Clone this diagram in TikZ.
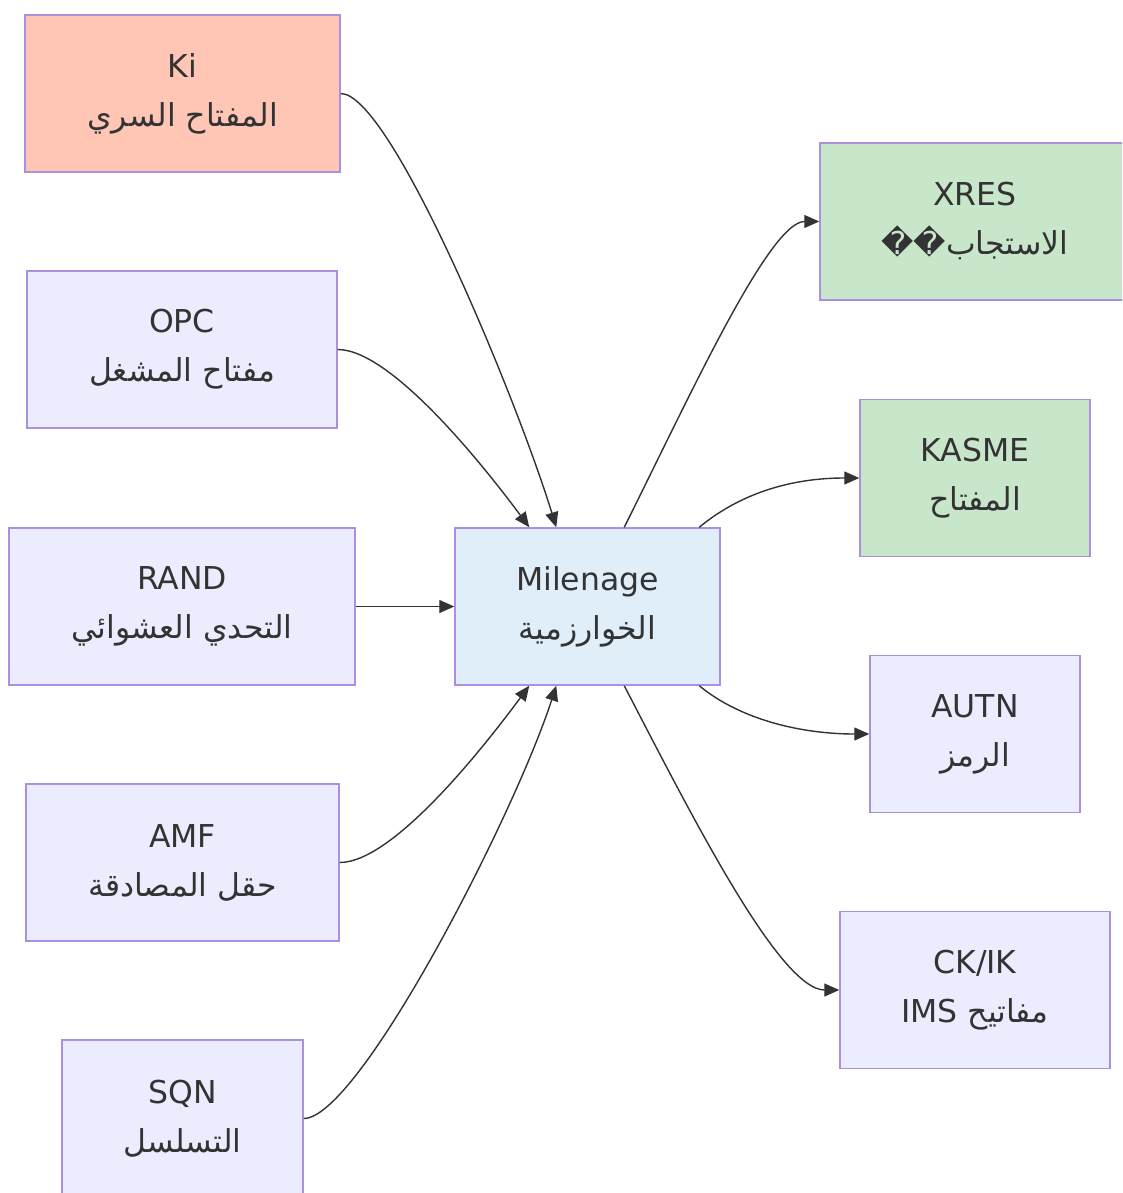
\documentclass[tikz,border=0pt]{standalone}
\usepackage{fontspec}
\setmainfont{DejaVu Sans}
\newfontfamily\arabicfont[Script=Arabic]{DejaVu Sans}
\TeXXeTstate=1
\usetikzlibrary{arrows.meta}
\definecolor{strokec}{HTML}{AB90E2}
\definecolor{lavc}{HTML}{ECECFF}
\definecolor{redc}{HTML}{FFC6B6}
\definecolor{greenc}{HTML}{C8E6C9}
\definecolor{bluec}{HTML}{E0EEFA}
\definecolor{textc}{HTML}{333333}
\newcommand{\artxt}[1]{{\arabicfont\beginR #1\endR}}
\begin{document}
\begin{tikzpicture}[x=1pt,y=-1pt,
  box/.style={draw=strokec, line width=1.5pt, fill=lavc, minimum height=157pt,
    align=center, text=textc, inner sep=0pt, font=\fontsize{31.5}{49}\selectfont},
  conn/.style={draw=textc, line width=1.4pt, -{Triangle[length=15pt,width=13pt]}}]
\clip (0,0) rectangle (1122,1193);
\fill[white] (0,0) rectangle (1122,1193);
% left column
\node[box, fill=redc, minimum width=315pt] (ki) at (182.5,93.5) {Ki\\\artxt{المفتاح السري}};
\node[box, minimum width=310pt] (opc) at (182,349.5) {OPC\\\artxt{مفتاح المشغل}};
\node[box, minimum width=346pt] (rand) at (182,606.5) {RAND\\\artxt{التحدي العشوائي}};
\node[box, minimum width=313pt] (amf) at (182.5,862.5) {AMF\\\artxt{حقل المصادقة}};
\node[box, minimum width=241pt] (sqn) at (182.5,1118.5) {SQN\\\artxt{التسلسل}};
% centre
\node[box, fill=bluec, minimum width=265pt] (mil) at (587.5,606.5) {Milenage\\\artxt{الخوارزمية}};
% right column
\node[box, fill=greenc, minimum width=310pt] (xres) at (975,221.5) {XRES\\\artxt{الاستجاب��}};
\node[box, fill=greenc, minimum width=230pt] (kasme) at (975,478) {KASME\\\artxt{المفتاح}};
\node[box, minimum width=210pt] (autn) at (975,734) {AUTN\\\artxt{الرمز}};
\node[box, minimum width=270pt] (ckik) at (975,990) {CK/IK\\\artxt{مفاتيح \beginL IMS\endL}};
% inputs
\draw[conn] (ki.east) .. controls +(50,0) and +(-40,-130) .. ([xshift=102pt]mil.north west);
\draw[conn] (opc.east) .. controls +(55,0) and +(-40,-54) .. ([xshift=75pt]mil.north west);
\draw[conn] (rand.east) -- (mil.west);
\draw[conn] (amf.east) .. controls +(55,0) and +(-40,54) .. ([xshift=75pt]mil.south west);
\draw[conn] (sqn.east) .. controls +(55,0) and +(-42,130) .. ([xshift=102pt]mil.south west);
% outputs
\draw[conn] ([xshift=170pt]mil.north west) .. controls +(65,-130) and +(-50,0) .. (xres.west);
\draw[conn] ([xshift=245pt]mil.north west) .. controls +(40,-33) and +(-70,0) .. (kasme.west);
\draw[conn] ([xshift=245pt]mil.south west) .. controls +(40,33) and +(-70,0) .. (autn.west);
\draw[conn] ([xshift=170pt]mil.south west) .. controls +(65,125) and +(-60,0) .. (ckik.west);
\end{tikzpicture}
\end{document}
